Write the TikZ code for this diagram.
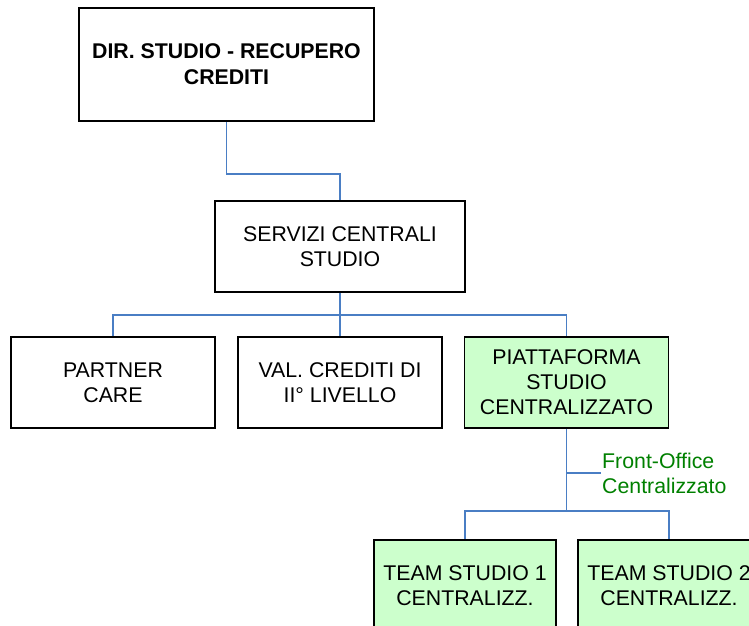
\documentclass[tikz,border=0pt]{standalone}
\usepackage{fontspec}
\setmainfont{Liberation Sans}
\usepackage{tikz}
\usetikzlibrary{positioning}

\definecolor{verdino}{RGB}{204,255,204}
\definecolor{verdescuro}{RGB}{0,128,0}
\definecolor{bluelinea}{RGB}{74,126,196}

\begin{document}
\begin{tikzpicture}[x=1pt,y=-1pt,
    every node/.style={font=\fontsize{21.3}{25}\selectfont, align=center},
    ufficio/.style={draw, line width=1.5pt, rectangle, minimum width=204pt, minimum height=91pt, inner sep=2pt},
    team/.style={ufficio, fill=verdino, minimum width=182pt},
    conn/.style={draw=bluelinea, line width=1.6pt}]
            \useasboundingbox (0,0) rectangle (749,625);
            % Nodi
            \node[ufficio, minimum width=295pt, minimum height=113pt, font=\fontsize{21.3}{26}\selectfont\bfseries] (dir) at (226.5,64.5) {DIR. STUDIO - RECUPERO\\CREDITI};
            \node[ufficio, minimum width=250pt] (serv) at (340,246.5) {SERVIZI CENTRALI\\STUDIO};
            \node[ufficio] (partner) at (113,382.5) {PARTNER\\CARE};
            \node[ufficio] (val) at (340,382.5) {VAL. CREDITI DI\\II° LIVELLO};
            \node[ufficio, fill=verdino] (piatt) at (566.5,382.5) {PIATTAFORMA\\STUDIO\\CENTRALIZZATO};
            \node[team] (team1) at (465,585.5) {TEAM STUDIO 1\\CENTRALIZZ.};
            \node[team] (team2) at (669,585.5) {TEAM STUDIO 2\\CENTRALIZZ.};
            \node[text=verdescuro, align=left, anchor=west, inner sep=1pt] (fo) at (601,473) {Front-Office\\Centralizzato};

            % Collegamenti
            \draw[conn] (dir.south) -- ++(0,52) -| (serv.north);
            \draw[conn] (serv.south) -- ++(0,22) -| (partner.north);
            \draw[conn] (serv.south) -- (val.north);
            \draw[conn] (serv.south) -- ++(0,22) -| (piatt.north);
            \draw[conn] (piatt.south) -- ++(0,82) -| (team1.north);
            \draw[conn] (piatt.south) -- ++(0,82) -| (team2.north);
            \draw[conn] (piatt.south |- fo.west) -- (fo.west);
          \end{tikzpicture}
\end{document}
